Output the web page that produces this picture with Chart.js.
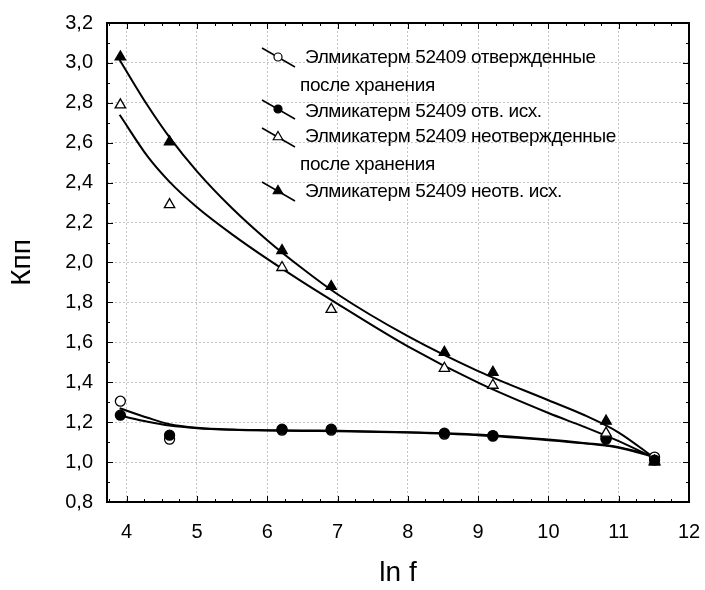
<!DOCTYPE html>
<html>
<head>
<meta charset="utf-8">
<script src="https://cdn.jsdelivr.net/npm/chart.js@4.4.1/dist/chart.umd.min.js"></script>
<style>
  html, body { margin: 0; padding: 0; background: #fff; }
  #wrap { width: 705px; height: 590px; }
</style>
</head>
<body>
<div id="wrap"><canvas id="myChart"></canvas></div>
<script>
// --- данные (читаются с исходного графика) ---
const lnF = [3.91, 4.61, 6.21, 6.91, 8.52, 9.21, 10.82, 11.51];

const curedStored   = [1.305, 1.115, 1.16, 1.16, 1.14, 1.13, 1.12, 1.025];   // отвержденные после хранения
const curedInit     = [1.235, 1.135, 1.165, 1.165, 1.145, 1.133, 1.115, 1.01]; // отв. исх.
const uncuredStored = [2.79, 2.29, 1.975, 1.765, 1.47, 1.385, 1.145, 1.005]; // неотвержденные после хранения
const uncuredInit   = [3.03, 2.605, 2.06, 1.88, 1.55, 1.45, 1.205, 1.0];     // неотв. исх.

const fitX             = [3.9, 4.3, 4.61, 5.0, 5.5, 6.0, 6.5, 7.0, 8.0, 9.0, 10.0, 10.5, 11.0, 11.51];
const fitCuredStored   = [1.27, 1.222, 1.19, 1.172, 1.163, 1.16, 1.158, 1.157, 1.15, 1.138, 1.113, 1.096, 1.075, 1.03];
const fitCuredInit     = [1.233, 1.202, 1.183, 1.17, 1.162, 1.158, 1.156, 1.155, 1.148, 1.135, 1.11, 1.094, 1.072, 1.025];
const fitUncuredStored = [2.74, 2.53, 2.404, 2.277, 2.141, 2.018, 1.903, 1.793, 1.58, 1.398, 1.246, 1.178, 1.105, 1.02];
const fitUncuredInit   = [3.015, 2.785, 2.627, 2.457, 2.272, 2.112, 1.97, 1.841, 1.631, 1.456, 1.31, 1.237, 1.148, 1.02];

const xTicks = [4, 5, 6, 7, 8, 9, 10, 11, 12];
const yTicks = [0.8, 1.0, 1.2, 1.4, 1.6, 1.8, 2.0, 2.2, 2.4, 2.6, 2.8, 3.0, 3.2];

const legendLabels = [
    ['Элмикатерм 52409 отвержденные', 'после хранения'],
    ['Элмикатерм 52409 отв. исх.'],
    ['Элмикатерм 52409 неотвержденные', 'после хранения'],
    ['Элмикатерм 52409 неотв. исх.']
];

const FONT = "'Liberation Sans', Arial, sans-serif";

function toXY(xs, ys) {
    return xs.map((x, i) => ({ x: x, y: ys[i] }));
}

function pointSet(ys, style, fill, r) {
    return {
        data: toXY(lnF, ys),
        showLine: false,
        pointStyle: style,
        pointRadius: r,
        pointBackgroundColor: fill,
        pointBorderColor: '#000',
        pointBorderWidth: 1.3,
        order: 0
    };
}

function fitSet(ys) {
    return {
        data: toXY(fitX, ys),
        showLine: true,
        borderColor: '#000',
        borderWidth: 2,
        pointRadius: 0,
        cubicInterpolationMode: 'monotone',
        fill: false,
        order: 1
    };
}

// рамка и засечки внутрь со всех сторон
const framePlugin = {
    id: 'frame',
    afterDatasetsDraw(chart) {
        const { ctx, chartArea: a, scales: { x, y } } = chart;
        ctx.save();
        ctx.strokeStyle = '#000';
        ctx.lineWidth = 1;
        ctx.beginPath();
        for (let v = 3.75; v <= 12.001; v += 0.25) {
            const px = Math.round(x.getPixelForValue(v)) + 0.5;
            const len = Math.abs(v - Math.round(v)) < 0.01 ? 6 : 3;
            ctx.moveTo(px, a.bottom); ctx.lineTo(px, a.bottom - len);
            ctx.moveTo(px, a.top); ctx.lineTo(px, a.top + len);
        }
        for (let v = 0.8; v <= 3.201; v += 0.1) {
            const py = Math.round(y.getPixelForValue(v)) + 0.5;
            const len = Math.round(v * 10) % 2 === 0 ? 6 : 3;
            ctx.moveTo(a.left, py); ctx.lineTo(a.left + len, py);
            ctx.moveTo(a.right, py); ctx.lineTo(a.right - len, py);
        }
        ctx.stroke();
        ctx.lineWidth = 2;
        ctx.strokeRect(a.left, a.top, a.right - a.left, a.bottom - a.top);
        ctx.restore();
    }
};

// легенда с наклонной линией внутри поля графика
const legendPlugin = {
    id: 'slantLegend',
    afterDraw(chart) {
        const ctx = chart.ctx;
        const rows = [
            { sy: 57, ty: [58, 86], style: 'circle', fill: '#fff' },
            { sy: 109, ty: [112], style: 'circle', fill: '#000' },
            { sy: 137, ty: [137, 165], style: 'triangle', fill: '#fff' },
            { sy: 191, ty: [192], style: 'triangle', fill: '#000' }
        ];
        ctx.save();
        rows.forEach((r, i) => {
            ctx.strokeStyle = '#000';
            ctx.lineWidth = 1.5;
            ctx.beginPath();
            ctx.moveTo(262, r.sy - 9);
            ctx.lineTo(295, r.sy + 10);
            ctx.stroke();
            ctx.fillStyle = r.fill;
            ctx.lineWidth = 1.2;
            Chart.helpers.drawPoint(ctx, {
                pointStyle: r.style,
                radius: r.style === 'circle' ? 4 : 5.5,
                borderWidth: 1.2
            }, 278, r.sy);
            ctx.fillStyle = '#000';
            ctx.font = '19px ' + FONT;
            ctx.textBaseline = 'middle';
            ctx.textAlign = 'left';
            if ('letterSpacing' in ctx) ctx.letterSpacing = '-0.4px';
            legendLabels[i].forEach((txt, k) => {
                ctx.fillText(txt, k === 0 ? 305 : 300, r.ty[k]);
            });
        });
        ctx.restore();
    }
};

const ctx = document.getElementById('myChart').getContext('2d');
window.myChart = new Chart(ctx, {
    type: 'scatter',
    data: {
        datasets: [
            pointSet(uncuredInit, 'triangle', '#000', 6),
            pointSet(uncuredStored, 'triangle', '#fff', 6),
            pointSet(curedInit, 'circle', '#000', 5),
            pointSet(curedStored, 'circle', '#fff', 5),
            fitSet(fitUncuredInit),
            fitSet(fitUncuredStored),
            fitSet(fitCuredInit),
            fitSet(fitCuredStored)
        ]
    },
    options: {
        responsive: true,
        maintainAspectRatio: false,
        animation: false,
        layout: { padding: { left: 0, right: 16, top: 23, bottom: 0 } },
        plugins: { legend: { display: false }, tooltip: { enabled: false } },
        scales: {
            x: {
                type: 'linear',
                min: 3.72,
                max: 12,
                afterBuildTicks: (s) => { s.ticks = xTicks.map(v => ({ value: v })); },
                afterFit: (s) => { s.height = 88; s.paddingLeft = 0; s.paddingRight = 0; },
                grid: { color: '#c4c4c4', lineWidth: 1, drawTicks: false },
                border: { display: false, dash: [2, 2] },
                ticks: { color: '#000', font: { family: FONT, size: 20 }, padding: 18, maxRotation: 0 },
                title: { display: true, text: 'ln f', color: '#000', font: { family: FONT, size: 28 }, padding: { top: 0, bottom: 0 } }
            },
            y: {
                type: 'linear',
                min: 0.8,
                max: 3.2,
                afterBuildTicks: (s) => { s.ticks = yTicks.map(v => ({ value: v })); },
                afterFit: (s) => { s.width = 107; s.paddingTop = 0; s.paddingBottom = 0; },
                grid: { color: '#c4c4c4', lineWidth: 1, drawTicks: false },
                border: { display: false, dash: [2, 2] },
                ticks: {
                    color: '#000',
                    font: { family: FONT, size: 20 },
                    padding: 14,
                    callback: (v) => v.toFixed(1).replace('.', ',')
                },
                title: { display: true, text: 'Кпп', color: '#000', font: { family: FONT, size: 28 }, padding: { top: 5, bottom: 0 } }
            }
        }
    },
    plugins: [framePlugin, legendPlugin]
});
</script>
</body>
</html>
